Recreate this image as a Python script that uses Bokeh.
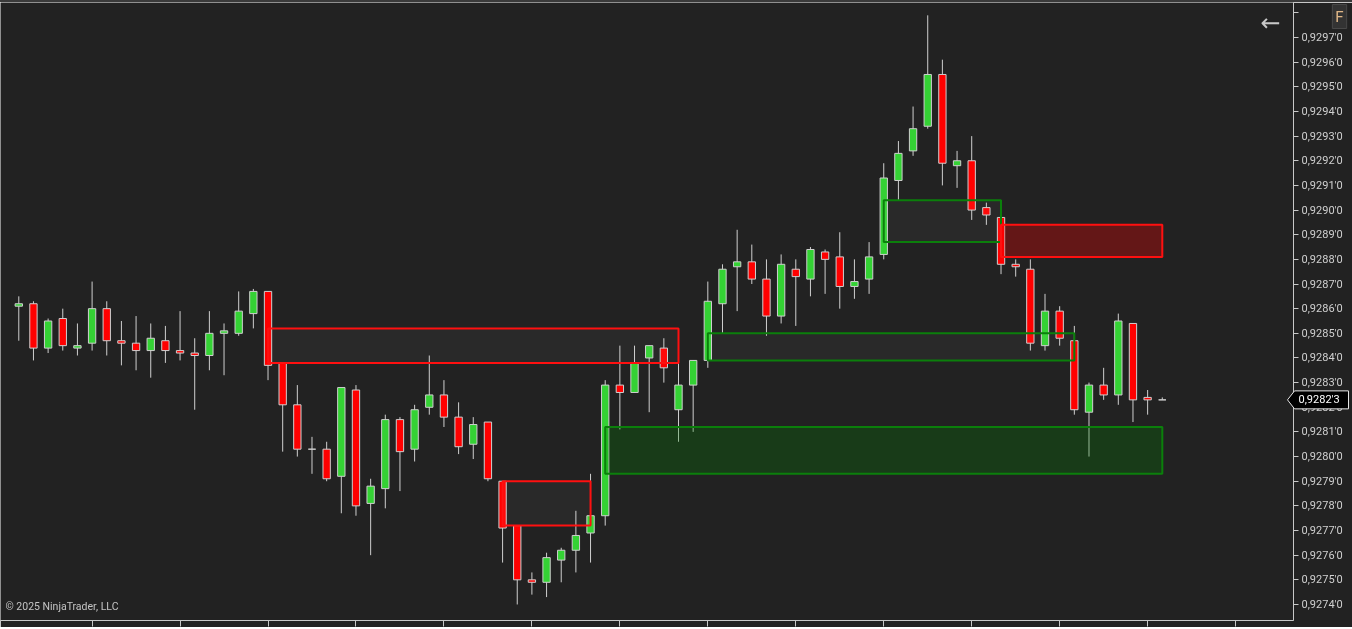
from bokeh.plotting import figure
from bokeh.models import (Range1d, SingleIntervalTicker, FixedTicker, CustomJSTickFormatter,
                          Label, ColumnDataSource)
from bokeh.embed import file_html
from bokeh.resources import INLINE

# ---------------- data ----------------
opens = [0.92861, 0.92862, 0.92844, 0.92856, 0.92844, 0.92846, 0.92860, 0.92847, 0.92846, 0.92843,
         0.92847, 0.92843, 0.92842, 0.92841, 0.92850, 0.92850, 0.92858, 0.92867, 0.92838, 0.92821,
         0.92803, 0.92803, 0.92792, 0.92827, 0.92781, 0.92787, 0.92815, 0.92803, 0.92820, 0.92825,
         0.92816, 0.92805, 0.92814, 0.92790, 0.92772, 0.92750, 0.92749, 0.92758, 0.92762, 0.92769,
         0.92776, 0.92829, 0.92826, 0.92840, 0.92844, 0.92819, 0.92829, 0.92839, 0.92862, 0.92877,
         0.92879, 0.92872, 0.92857, 0.92876, 0.92872, 0.92883, 0.92881, 0.92869, 0.92872, 0.92882,
         0.92912, 0.92924, 0.92934, 0.92955, 0.92918, 0.92920, 0.92901, 0.92897, 0.92878, 0.92876,
         0.92845, 0.92859, 0.92847, 0.92818, 0.92829, 0.92825, 0.92854, 0.92824, 0.92823]
highs = [0.92865, 0.92863, 0.92856, 0.92860, 0.92854, 0.92871, 0.92863, 0.92855, 0.92857, 0.92854,
         0.92853, 0.92859, 0.92848, 0.92859, 0.92854, 0.92867, 0.92868, 0.92867, 0.92838, 0.92829,
         0.92808, 0.92806, 0.92828, 0.92829, 0.92791, 0.92817, 0.92816, 0.92821, 0.92841, 0.92831,
         0.92822, 0.92816, 0.92814, 0.92790, 0.92772, 0.92753, 0.92761, 0.92763, 0.92778, 0.92793,
         0.92831, 0.92845, 0.92845, 0.92845, 0.92848, 0.92840, 0.92839, 0.92871, 0.92878, 0.92892,
         0.92886, 0.92880, 0.92882, 0.92880, 0.92885, 0.92884, 0.92891, 0.92880, 0.92887, 0.92919,
         0.92928, 0.92942, 0.92979, 0.92961, 0.92924, 0.92930, 0.92903, 0.92897, 0.92880, 0.92880,
         0.92866, 0.92861, 0.92853, 0.92830, 0.92836, 0.92858, 0.92854, 0.92827, 0.92824]
lows = [0.92847, 0.92839, 0.92842, 0.92843, 0.92841, 0.92843, 0.92841, 0.92837, 0.92835, 0.92832,
        0.92838, 0.92839, 0.92819, 0.92835, 0.92833, 0.92849, 0.92852, 0.92831, 0.92802, 0.92800,
        0.92793, 0.92790, 0.92777, 0.92776, 0.92760, 0.92779, 0.92786, 0.92798, 0.92817, 0.92812,
        0.92801, 0.92799, 0.92790, 0.92757, 0.92740, 0.92744, 0.92743, 0.92749, 0.92753, 0.92757,
        0.92772, 0.92811, 0.92826, 0.92818, 0.92830, 0.92806, 0.92810, 0.92836, 0.92850, 0.92859,
        0.92870, 0.92849, 0.92854, 0.92853, 0.92865, 0.92866, 0.92860, 0.92864, 0.92866, 0.92880,
        0.92904, 0.92922, 0.92933, 0.92910, 0.92909, 0.92896, 0.92894, 0.92874, 0.92873, 0.92843,
        0.92843, 0.92845, 0.92817, 0.92800, 0.92823, 0.92821, 0.92814, 0.92817, 0.92823]
closes = [0.92862, 0.92844, 0.92855, 0.92845, 0.92845, 0.92860, 0.92847, 0.92846, 0.92843, 0.92848,
          0.92843, 0.92842, 0.92841, 0.92850, 0.92851, 0.92859, 0.92867, 0.92837, 0.92821, 0.92803,
          0.92803, 0.92791, 0.92828, 0.92780, 0.92788, 0.92815, 0.92802, 0.92819, 0.92825, 0.92816,
          0.92804, 0.92813, 0.92791, 0.92771, 0.92750, 0.92749, 0.92759, 0.92762, 0.92768, 0.92776,
          0.92829, 0.92826, 0.92838, 0.92845, 0.92836, 0.92829, 0.92839, 0.92863, 0.92876, 0.92879,
          0.92872, 0.92857, 0.92878, 0.92873, 0.92884, 0.92880, 0.92869, 0.92871, 0.92881, 0.92913,
          0.92923, 0.92933, 0.92955, 0.92919, 0.92920, 0.92900, 0.92898, 0.92878, 0.92877, 0.92846,
          0.92859, 0.92848, 0.92819, 0.92829, 0.92825, 0.92855, 0.92823, 0.92823, 0.92823]

# Fair-value-gap zones: start bar, end bar, top price, bottom price, kind
zone_start = [17, 33, 40, 47, 59, 67]
zone_end = [45, 39, 78, 72, 67, 78]
zone_top = [0.92852, 0.92790, 0.92812, 0.92850, 0.92904, 0.92894]
zone_bottom = [0.92838, 0.92772, 0.92793, 0.92839, 0.92887, 0.92881]
zone_kind = ["bear_done", "bear_done", "bull_open", "bull_done", "bull_done", "bear_open"]

time_ticks = [5, 11, 17, 23, 29, 35, 41, 47, 53, 59, 65, 71, 77, 83]
price_tick_step = 0.0001

# ---------------- styling ----------------
BG = "#222222"
GRN = "#34d234"
RED = "#ff0000"
OUTL = "#cfcfcf"
AXC = "#c8c8c8"

W, H = 1352, 627
yr = Range1d(0.927335, 0.929842)
p = figure(width=W, height=H, x_range=Range1d(-1.248, 86.95), y_range=yr,
           toolbar_location=None, output_backend="svg",
           y_axis_location="right", x_axis_location="below",
           background_fill_color=BG, border_fill_color=BG,
           min_border_left=0, min_border_top=0, min_border_right=59, min_border_bottom=9)
p.styles = {"position": "fixed", "left": "0px", "top": "0px",
            "border-top": "2px solid #3a3a3a"}
p.outline_line_color = None
p.grid.visible = False

idx = list(range(len(opens)))
src = ColumnDataSource(dict(
    x=idx, o=opens, h=highs, l=lows, c=closes,
    top=[max(o, c) for o, c in zip(opens, closes)],
    bot=[min(o, c) for o, c in zip(opens, closes)],
    col=[GRN if c > o else (RED if c < o else OUTL) for o, c in zip(opens, closes)],
))
p.segment(x0="x", y0="h", x1="x", y1="l", source=src, line_color=OUTL, line_width=1)
p.vbar(x="x", top="top", bottom="bot", width=0.5, source=src,
       fill_color="col", line_color=OUTL, line_width=1)

styles = {
    "bear_done": dict(fill_color="#ffffff", fill_alpha=0.035, line_color="#ff1010"),
    "bull_done": dict(fill_color="#ffffff", fill_alpha=0.035, line_color="#0b7f0b"),
    "bull_open": dict(fill_color="#008000", fill_alpha=0.27, line_color="#0b7f0b"),
    "bear_open": dict(fill_color="#ff0000", fill_alpha=0.30, line_color="#ff1010"),
}
for s, e, t, b, k in zip(zone_start, zone_end, zone_top, zone_bottom, zone_kind):
    p.quad(left=s, right=e, top=t, bottom=b, line_width=2, **styles[k])

# axes
ya = p.yaxis[0]
ya.ticker = SingleIntervalTicker(interval=price_tick_step, num_minor_ticks=0)
ya.formatter = CustomJSTickFormatter(code="""
if (tick > 0.92975) return "";
const s = tick.toFixed(5);
return s.slice(0, 6).replace('.', ',') + "'" + s.slice(6);
""")
ya.axis_line_color = AXC
ya.major_tick_line_color = AXC
ya.major_tick_out = 5
ya.major_tick_in = 0
ya.minor_tick_line_color = None
ya.major_label_text_color = "#d0d0d0"
ya.major_label_text_font = "Roboto"
ya.major_label_text_font_size = "11px"
ya.major_label_standoff = 3

xa = p.xaxis[0]
xa.ticker = FixedTicker(ticks=time_ticks)
xa.formatter = CustomJSTickFormatter(code="return '';")
xa.axis_line_color = AXC
xa.major_tick_line_color = AXC
xa.major_tick_out = 6
xa.major_tick_in = 0
xa.minor_tick_line_color = None
xa.major_label_standoff = 0

# decorations inside the frame
p.add_layout(Label(x=5, y=14, x_units="screen", y_units="screen",
                   text="\u00a9 2025 NinjaTrader, LLC", text_color="#c4c4c4",
                   text_font="Roboto", text_font_size="10.5px", text_baseline="middle"))
p.add_layout(Label(x=1270, y=598, x_units="screen", y_units="screen", text="\u2190",
                   text_color="#c8c8c8", text_font="DejaVu Sans", text_font_size="24px",
                   text_align="center", text_baseline="middle"))

# ---------------- overlay over the price scale (current price marker, F button) ----------------
q = figure(width=72, height=629, x_range=Range1d(0, 72), y_range=yr,
           toolbar_location=None, output_backend="svg",
           x_axis_location=None, y_axis_location=None,
           background_fill_color=None, border_fill_color=None,
           min_border_left=0, min_border_right=0, min_border_top=2, min_border_bottom=9)
q.styles = {"position": "fixed", "left": "1280px", "top": "0px"}
q.outline_line_color = None
q.grid.visible = False

last = closes[-1]
hh = 0.0000365
q.patch(x=[7, 14, 68, 68, 14], y=[last, last + hh, last + hh, last - hh, last - hh],
        fill_color="#000000", line_color="#e6e6e6", line_width=1)
lbl = "{:.5f}".format(last)
lbl = lbl[:6].replace(".", ",") + "'" + lbl[6:]
q.add_layout(Label(x=18, y=last, x_units="data", y_units="data", text=lbl,
                   text_color="#ffffff", text_font="Roboto", text_font_size="11px",
                   text_baseline="middle", text_align="left"))
q.add_layout(Label(x=59, y=604, x_units="screen", y_units="screen", text="F",
                   text_color="#e0b787", text_font="Roboto", text_font_size="15px",
                   text_align="center", text_baseline="middle",
                   background_fill_color="#333333", border_line_color="#484848",
                   padding=3))

open("out.html", "w").write(file_html([p, q], INLINE))
